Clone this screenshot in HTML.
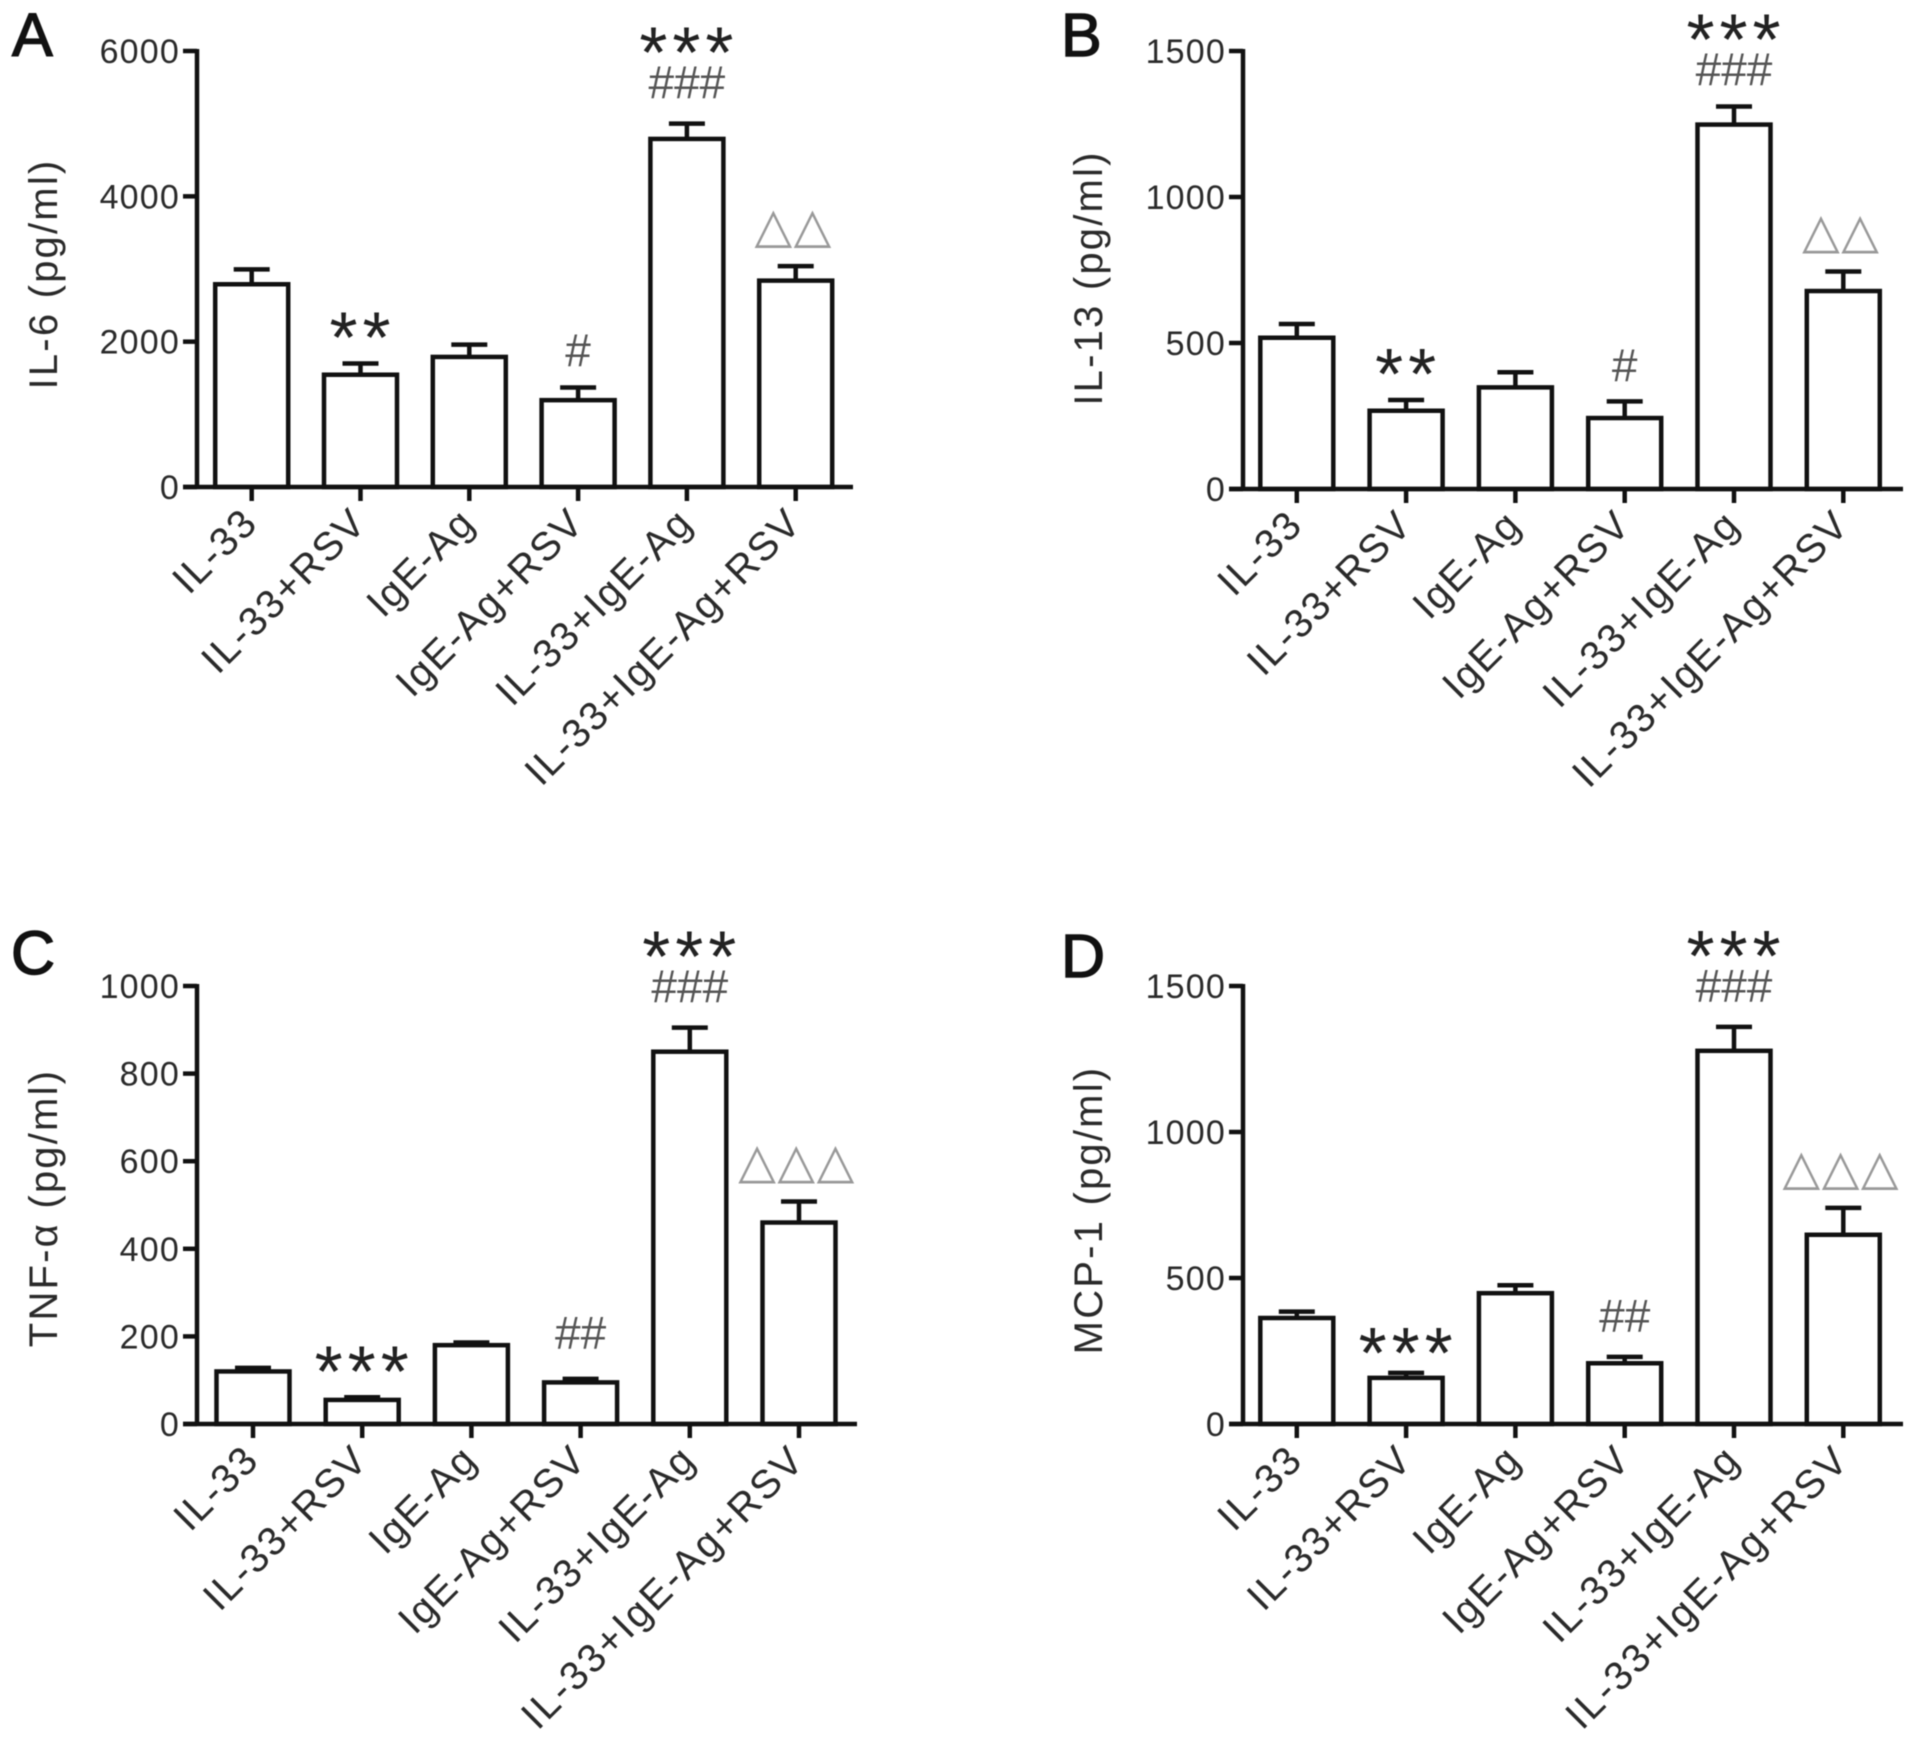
<!DOCTYPE html>
<html>
<head>
<meta charset="utf-8">
<title>Cytokine bar charts</title>
<style>
html,body{margin:0;padding:0;background:#fff;}
svg{display:block;filter:blur(0.6px);}
text{font-family:"Liberation Sans","DejaVu Sans",sans-serif;}
</style>
</head>
<body>
<svg id="fig" xmlns="http://www.w3.org/2000/svg" width="1913" height="1743" viewBox="0 0 1913 1743"></svg>
<script>
const categories = ['IL-33','IL-33+RSV','IgE-Ag','IgE-Ag+RSV','IL-33+IgE-Ag','IL-33+IgE-Ag+RSV'];

const il6Values = [2790,1545,1790,1195,4790,2840];
const il6Errors = [205,155,170,175,210,200];
const il6Ticks = [0,2000,4000,6000];
const il6Marks = ['','**','','#','***|###','△△'];

const il13Values = [518,268,348,243,1248,678];
const il13Errors = [47,37,52,57,62,67];
const il13Ticks = [0,500,1000,1500];
const il13Marks = ['','**','','#','***|###','△△'];

const tnfValues = [120,55,180,95,850,460];
const tnfErrors = [8,6,6,8,55,48];
const tnfTicks = [0,200,400,600,800,1000];
const tnfMarks = ['','***','','##','***|###','△△△'];

const mcpValues = [363,158,448,208,1278,648];
const mcpErrors = [22,17,27,22,82,92];
const mcpTicks = [0,500,1000,1500];
const mcpMarks = ['','***','','##','***|###','△△△'];

const panels = [
  {id:'a',letter:'A',title:'IL-6 (pg/ml)',values:il6Values,errors:il6Errors,ticks:il6Ticks,marks:il6Marks,axisX:197,axisEnd:853,top:51,base:487,first:251.7,step:108.8,letterX:12,letterY:56,titleX:57,titleShift:5,stackLift:5,hashLift:1,starLift:0,lastSpacing:1.8},
  {id:'b',letter:'B',title:'IL-13 (pg/ml)',values:il13Values,errors:il13Errors,ticks:il13Ticks,marks:il13Marks,axisX:1243,axisEnd:1903,top:51,base:489,first:1296.8,step:109.3,letterX:1061,letterY:56,titleX:1102,titleShift:8,stackLift:1,hashLift:0,starLift:0,lastSpacing:1.8},
  {id:'c',letter:'C',title:'TNF-α (pg/ml)',values:tnfValues,errors:tnfErrors,ticks:tnfTicks,marks:tnfMarks,axisX:197,axisEnd:857,top:986,base:1424,first:253,step:109.2,letterX:11,letterY:974,titleX:57,titleShift:3,stackLift:5,hashLift:10,starLift:0,lastSpacing:2.4},
  {id:'d',letter:'D',title:'MCP-1 (pg/ml)',values:mcpValues,errors:mcpErrors,ticks:mcpTicks,marks:mcpMarks,axisX:1243,axisEnd:1903,top:986,base:1424,first:1296.8,step:109.3,letterX:1061,letterY:977,titleX:1102,titleShift:5,stackLift:5,hashLift:5,starLift:-6,lastSpacing:2.4}
];

const SVG_NS = 'http://www.w3.org/2000/svg';
const fig = document.getElementById('fig');
const INK = '#111';
const LABEL = '#2a2a2a';
const STROKE = 4.5;

function make(tag, attrs, parent, content) {
  const node = document.createElementNS(SVG_NS, tag);
  for (const key in attrs) node.setAttribute(key, attrs[key]);
  if (content !== undefined) node.textContent = content;
  parent.appendChild(node);
  return node;
}

function drawMark(group, symbol, cx, errTop, lift) {
  let fontSize, fill, gap, family, spacing, shift;
  if (symbol[0] === '*') {
    fontSize = 72; fill = '#222'; gap = 1; family = '"Liberation Sans",sans-serif'; spacing = 5; shift = 2;
  } else if (symbol[0] === '#') {
    fontSize = 46; fill = '#555'; gap = 20; family = '"Liberation Sans",sans-serif'; spacing = 0; shift = 0;
  } else {
    fontSize = 49; fill = '#999'; gap = 24; family = '"DejaVu Sans",sans-serif'; spacing = 1.5; shift = -2;
  }
  const mark = make('text', {x:cx + shift, y:errTop - gap - lift, 'text-anchor':'middle', 'font-size':fontSize, fill:fill, 'font-family':family, 'letter-spacing':spacing}, group, symbol);
  
  
  return mark;
}

function drawPanel(p) {
  const group = make('g', {}, fig);
  
  

  const maxTick = p.ticks[p.ticks.length - 1];
  const yScale = v => p.base - (v / maxTick) * (p.base - p.top);
  const xScale = i => p.first + i * p.step;
  const barWidth = 73;
  const capHalf = 18;

  const letter = make('text', {x:p.letterX, y:p.letterY, 'font-size':61, fill:'#111', stroke:'#111', 'stroke-width':1.4}, group, p.letter);
  
  

  const titleY = (p.base + p.top) / 2 + p.titleShift;
  const title = make('text', {x:p.titleX, y:titleY, 'font-size':40, fill:LABEL, 'text-anchor':'middle', 'letter-spacing':2.2, transform:'rotate(-90 ' + p.titleX + ' ' + titleY + ')'}, group, p.title);
  
  

  p.values.forEach((value, i) => {
    const cx = xScale(i);
    const top = yScale(value);
    const errTop = yScale(value + p.errors[i]);

    const stem = make('line', {x1:cx, x2:cx, y1:top, y2:errTop, stroke:INK, 'stroke-width':STROKE}, group);
    
    

    const cap = make('line', {x1:cx - capHalf, x2:cx + capHalf, y1:errTop, y2:errTop, stroke:INK, 'stroke-width':STROKE}, group);
    
    

    const bar = make('rect', {x:cx - barWidth / 2, y:top, width:barWidth, height:p.base - top, fill:'#fff', stroke:INK, 'stroke-width':STROKE}, group);
    
    

    const tick = make('line', {x1:cx, x2:cx, y1:p.base, y2:p.base + 14, stroke:INK, 'stroke-width':STROKE}, group);
    
    

    const lx = cx + 8;
    const ly = p.base + 38;
    const spacing = i === categories.length - 1 ? p.lastSpacing : 1.8;
    const label = make('text', {x:lx, y:ly, 'font-size':40, fill:LABEL, 'text-anchor':'end', 'letter-spacing':spacing, transform:'rotate(-45 ' + lx + ' ' + ly + ')'}, group, categories[i]);
    
    

    if (p.marks[i]) {
      const parts = p.marks[i].split('|').reverse();
      if (parts.length > 1) {
        drawMark(group, parts[0], cx, errTop, p.stackLift);
        drawMark(group, parts[1], cx, errTop - 40, p.stackLift);
      } else {
        const lift = parts[0][0] === '#' ? p.hashLift : (parts[0][0] === '*' ? p.starLift : 0);
        drawMark(group, parts[0], cx, errTop, lift);
      }
    }
  });

  const yAxis = make('line', {x1:p.axisX, x2:p.axisX, y1:p.top - 2, y2:p.base + 2, stroke:INK, 'stroke-width':STROKE}, group);
  
  

  const xAxis = make('line', {x1:p.axisX - 14, x2:p.axisEnd, y1:p.base, y2:p.base, stroke:INK, 'stroke-width':STROKE}, group);
  
  

  p.ticks.forEach(value => {
    const y = yScale(value);
    const tick = make('line', {x1:p.axisX - 14, x2:p.axisX, y1:y, y2:y, stroke:INK, 'stroke-width':STROKE}, group);
    
    

    const label = make('text', {x:p.axisX - 17, y:y + 12, 'font-size':34, fill:LABEL, 'text-anchor':'end', 'letter-spacing':1.2}, group, String(value));
    
    
  });
}

panels.forEach(drawPanel);
</script>
</body>
</html>
